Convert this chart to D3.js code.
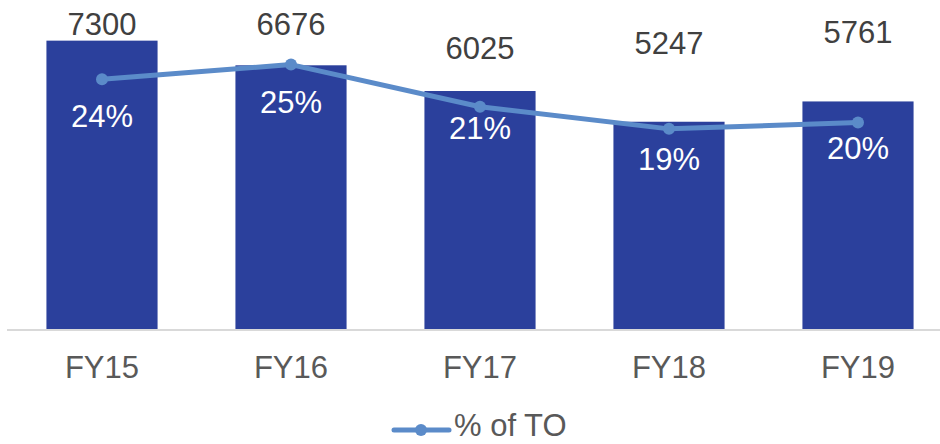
<html>
<head>
<script src="https://d3js.org/d3.v7.min.js"></script>
<style>
  body { margin: 0; background: #fff; font-family: "Liberation Sans", Arial, sans-serif; }
  svg { display: block; }
</style>
</head>
<body>
<svg id="chart" width="940" height="444"></svg>
<script>
// data
const years = ["FY15", "FY16", "FY17", "FY18", "FY19"];
const amounts = [7300, 6676, 6025, 5247, 5761];
const shareOfTO = [23.7, 25.1, 21.1, 19.0, 19.6];
const shareLabels = ["24%", "25%", "21%", "19%", "20%"];

const svg = d3.select("#chart");
const BAR = "#2b409c", LINE = "#5b8bc9";

const x = d3.scaleBand().domain(years).range([7.5, 952.5]).paddingInner(0.412).paddingOuter(0.206);
const y = d3.scaleLinear().domain([0, 8000]).range([329, 13]);
const y2 = d3.scaleLinear().domain([0, 30]).range([329, 13]);
const cx = d => x(d) + x.bandwidth() / 2;

// bars
svg.append("g").selectAll("rect")
  .data(years)
  .enter().append("rect")
  .attr("x", d => x(d))
  .attr("width", x.bandwidth())
  .attr("y", (d, i) => y(amounts[i]))
  .attr("height", (d, i) => y(0) - y(amounts[i]))
  .attr("fill", BAR);

// axis line
svg.append("line")
  .attr("x1", 7).attr("x2", 940)
  .attr("y1", y(0) + 1).attr("y2", y(0) + 1)
  .attr("stroke", "#d9d9d9").attr("stroke-width", 2);

// category labels
svg.append("g").selectAll("text")
  .data(years)
  .enter().append("text")
  .attr("x", d => cx(d))
  .attr("y", 378)
  .attr("text-anchor", "middle")
  .attr("font-size", 31)
  .attr("fill", "#595959")
  .text(d => d);

// value labels (nudged like the original so they clear the line)
const valueLabelY = [35, 35, 59, 54, 43];
svg.append("g").selectAll("text")
  .data(years)
  .enter().append("text")
  .attr("x", d => cx(d))
  .attr("y", (d, i) => valueLabelY[i])
  .attr("text-anchor", "middle")
  .attr("font-size", 31)
  .attr("fill", "#404040")
  .text((d, i) => amounts[i]);

// line series
const line = d3.line()
  .x((d, i) => cx(years[i]))
  .y(d => y2(d));

svg.append("path")
  .datum(shareOfTO)
  .attr("d", line)
  .attr("fill", "none")
  .attr("stroke", LINE)
  .attr("stroke-width", 5)
  .attr("stroke-linejoin", "round")
  .attr("stroke-linecap", "round");

svg.append("g").selectAll("circle")
  .data(shareOfTO)
  .enter().append("circle")
  .attr("cx", (d, i) => cx(years[i]))
  .attr("cy", d => y2(d))
  .attr("r", 6)
  .attr("fill", LINE);

// percent labels sit below the markers, offsets as in the original
const shareLabelDrop = [48, 48, 32, 41, 36];
svg.append("g").selectAll("text")
  .data(shareOfTO)
  .enter().append("text")
  .attr("x", (d, i) => cx(years[i]))
  .attr("y", (d, i) => y2(d) + shareLabelDrop[i])
  .attr("text-anchor", "middle")
  .attr("font-size", 31)
  .attr("fill", "#fff")
  .text((d, i) => shareLabels[i]);

// legend
const lg = svg.append("g");
lg.append("line")
  .attr("x1", 394).attr("x2", 449).attr("y1", 430).attr("y2", 430)
  .attr("stroke", LINE).attr("stroke-width", 5).attr("stroke-linecap", "round");
lg.append("circle").attr("cx", 421).attr("cy", 430).attr("r", 6).attr("fill", LINE);
lg.append("text")
  .attr("x", 454).attr("y", 436)
  .attr("font-size", 31)
  .attr("fill", "#595959")
  .text("% of TO");
</script>
</body>
</html>
